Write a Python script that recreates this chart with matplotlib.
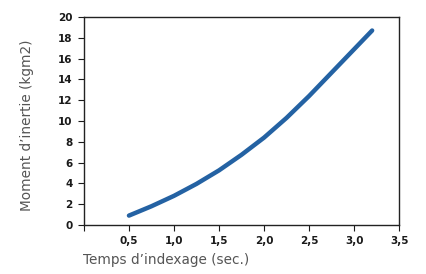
import matplotlib.pyplot as plt

plt.rcParams['font.family'] = ['DejaVu Sans']

# Temps d'indexage (sec.) et moment d'inertie (kgm2)
temps = [0.5, 0.75, 1.0, 1.25, 1.5, 1.75, 2.0, 2.25, 2.5, 2.75, 3.0, 3.2]
inertie = [0.9, 1.8, 2.8, 3.95, 5.25, 6.75, 8.4, 10.3, 12.4, 14.65, 16.9, 18.7]

xticks = [0, 0.5, 1.0, 1.5, 2.0, 2.5, 3.0, 3.5]
xlabels = ['', '0,5', '1,0', '1,5', '2,0', '2,5', '3,0', '3,5']
yticks = list(range(0, 21, 2))

fig = plt.figure(figsize=(4.26, 2.74), dpi=100)
ax = fig.add_axes([0.197, 0.179, 0.740, 0.759])

ax.plot(temps, inertie, color='#2462a3', linewidth=3.2, solid_capstyle='round', solid_joinstyle='round')

ax.set_xlim(0, 3.5)
ax.set_ylim(0, 20)
ax.set_xticks(xticks)
ax.set_xticklabels(xlabels)
ax.set_yticks(yticks)
ax.tick_params(direction='out', length=4, width=0.8, labelsize=7.5, colors='#1a1a1a', pad=4)
for lab in ax.get_xticklabels() + ax.get_yticklabels():
    lab.set_fontweight('bold')

for s in ax.spines.values():
    s.set_color('#222222')
    s.set_linewidth(1.0)

ax.set_ylabel('Moment d\u2019inertie (kgm2)', fontsize=9.8, color='#555555')
ax.yaxis.set_label_coords(-0.157, 0.48)
fig.text(0.195, 0.025, 'Temps d\u2019indexage (sec.)', fontsize=9.8, color='#555555', ha='left', va='bottom')

fig.savefig('out.png', dpi=100)
